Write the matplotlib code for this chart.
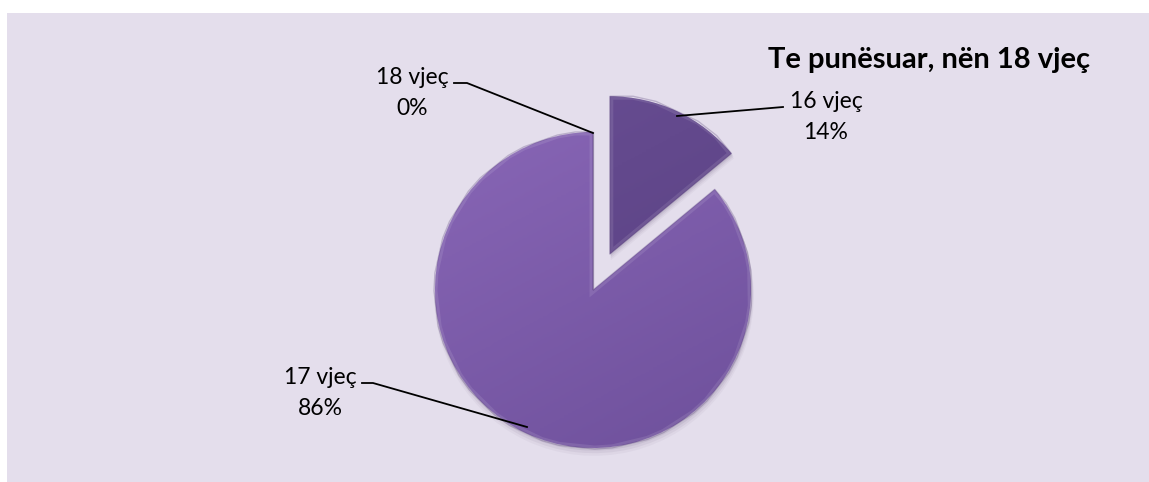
import matplotlib.pyplot as plt
import numpy as np
from matplotlib.patches import Rectangle
from matplotlib.colors import LinearSegmentedColormap

# data
labels = ["16 vjeç", "17 vjeç", "18 vjeç"]
shares = [14, 86, 0]
explode_frac = [0.25, 0, 0]
title = "Te punësuar, nën 18 vjeç"

slice_colors = [("#6b5096", "#533b7b"), ("#8d6abb", "#694c96"), ("#8d6abb", "#694c96")]

W, H = 1149, 482
plt.rcParams['font.family'] = ['Lato', 'DejaVu Sans']

fig = plt.figure(figsize=(W / 100, H / 100), dpi=100, facecolor="white")
ax = fig.add_axes([0, 0, 1, 1])

# chart area background
ax.add_patch(Rectangle((7, 0), W, H - 13, facecolor="#e4deec", edgecolor="none", zorder=0))

cx, cy, r = 593, H - 290, 158
explode = [e * r for e in explode_frac]  # pie offsets are in data units

# soft shadow
for k, a in [(6, 0.04), (4, 0.06), (2, 0.08)]:
    sh, _ = ax.pie(shares, explode=explode, startangle=90, counterclock=False,
                   center=(cx + 1, cy - k), radius=r + k * 0.3, frame=True)
    for w in sh:
        w.set_facecolor((0.2, 0.15, 0.3, a))
        w.set_edgecolor("none")
        w.set_zorder(1)

wedges, _ = ax.pie(shares, explode=explode, startangle=90, counterclock=False,
                   center=(cx, cy), radius=r, frame=True)

yy, xx = np.mgrid[0:1:200j, 0:1:200j]
grad = 0.65 * yy + 0.35 * xx  # lighter top left, darker bottom right
for w, (c1, c2) in zip(wedges, slice_colors):
    w.set_facecolor("none")
    w.set_edgecolor("none")
    w.set_zorder(3)
    cmap = LinearSegmentedColormap.from_list("s", [c1, c2])
    im = ax.imshow(grad, cmap=cmap, extent=(cx - r - 60, cx + r + 60, cy - r - 60, cy + r + 60),
                   origin="upper", zorder=2, interpolation="bilinear")
    im.set_clip_path(w)
    # bevel edge
    verts = w.get_path().transformed(w.get_patch_transform()).vertices
    ax.add_patch(plt.Polygon(verts, closed=True, facecolor="none", edgecolor=(1, 1, 1, 0.10),
                             linewidth=5, zorder=3, clip_path=w))
    ax.add_patch(plt.Polygon(verts, closed=True, facecolor="none", edgecolor=(0.25, 0.15, 0.4, 0.25),
                             linewidth=1, zorder=3))

ax.set_xlim(0, W)
ax.set_ylim(0, H)
ax.set_aspect("equal")
ax.axis("off")

# data labels with leader lines
fs = 16.5
ax.text(826, H - 117, "16 vjeç\n14%", ha="center", va="center", fontsize=fs,
        linespacing=1.55, zorder=5)
ax.plot([677, 783], [H - 116, H - 107], color="black", lw=1.3, zorder=5)

ax.text(320, H - 393, "17 vjeç\n86%", ha="center", va="center", fontsize=fs,
        linespacing=1.55, zorder=5)
ax.plot([362, 373, 527], [H - 383, H - 383, H - 427], color="black", lw=1.3, zorder=5)

ax.text(412, H - 93, "18 vjeç\n0%", ha="center", va="center", fontsize=fs,
        linespacing=1.55, zorder=5)
ax.plot([454, 467, 593], [H - 83, H - 83, H - 133], color="black", lw=1.3, zorder=5)

ax.text(929, H - 60, title, ha="center", va="center", fontsize=21, fontweight="bold", zorder=5)

fig.savefig("out.png", dpi=100, facecolor="white")
